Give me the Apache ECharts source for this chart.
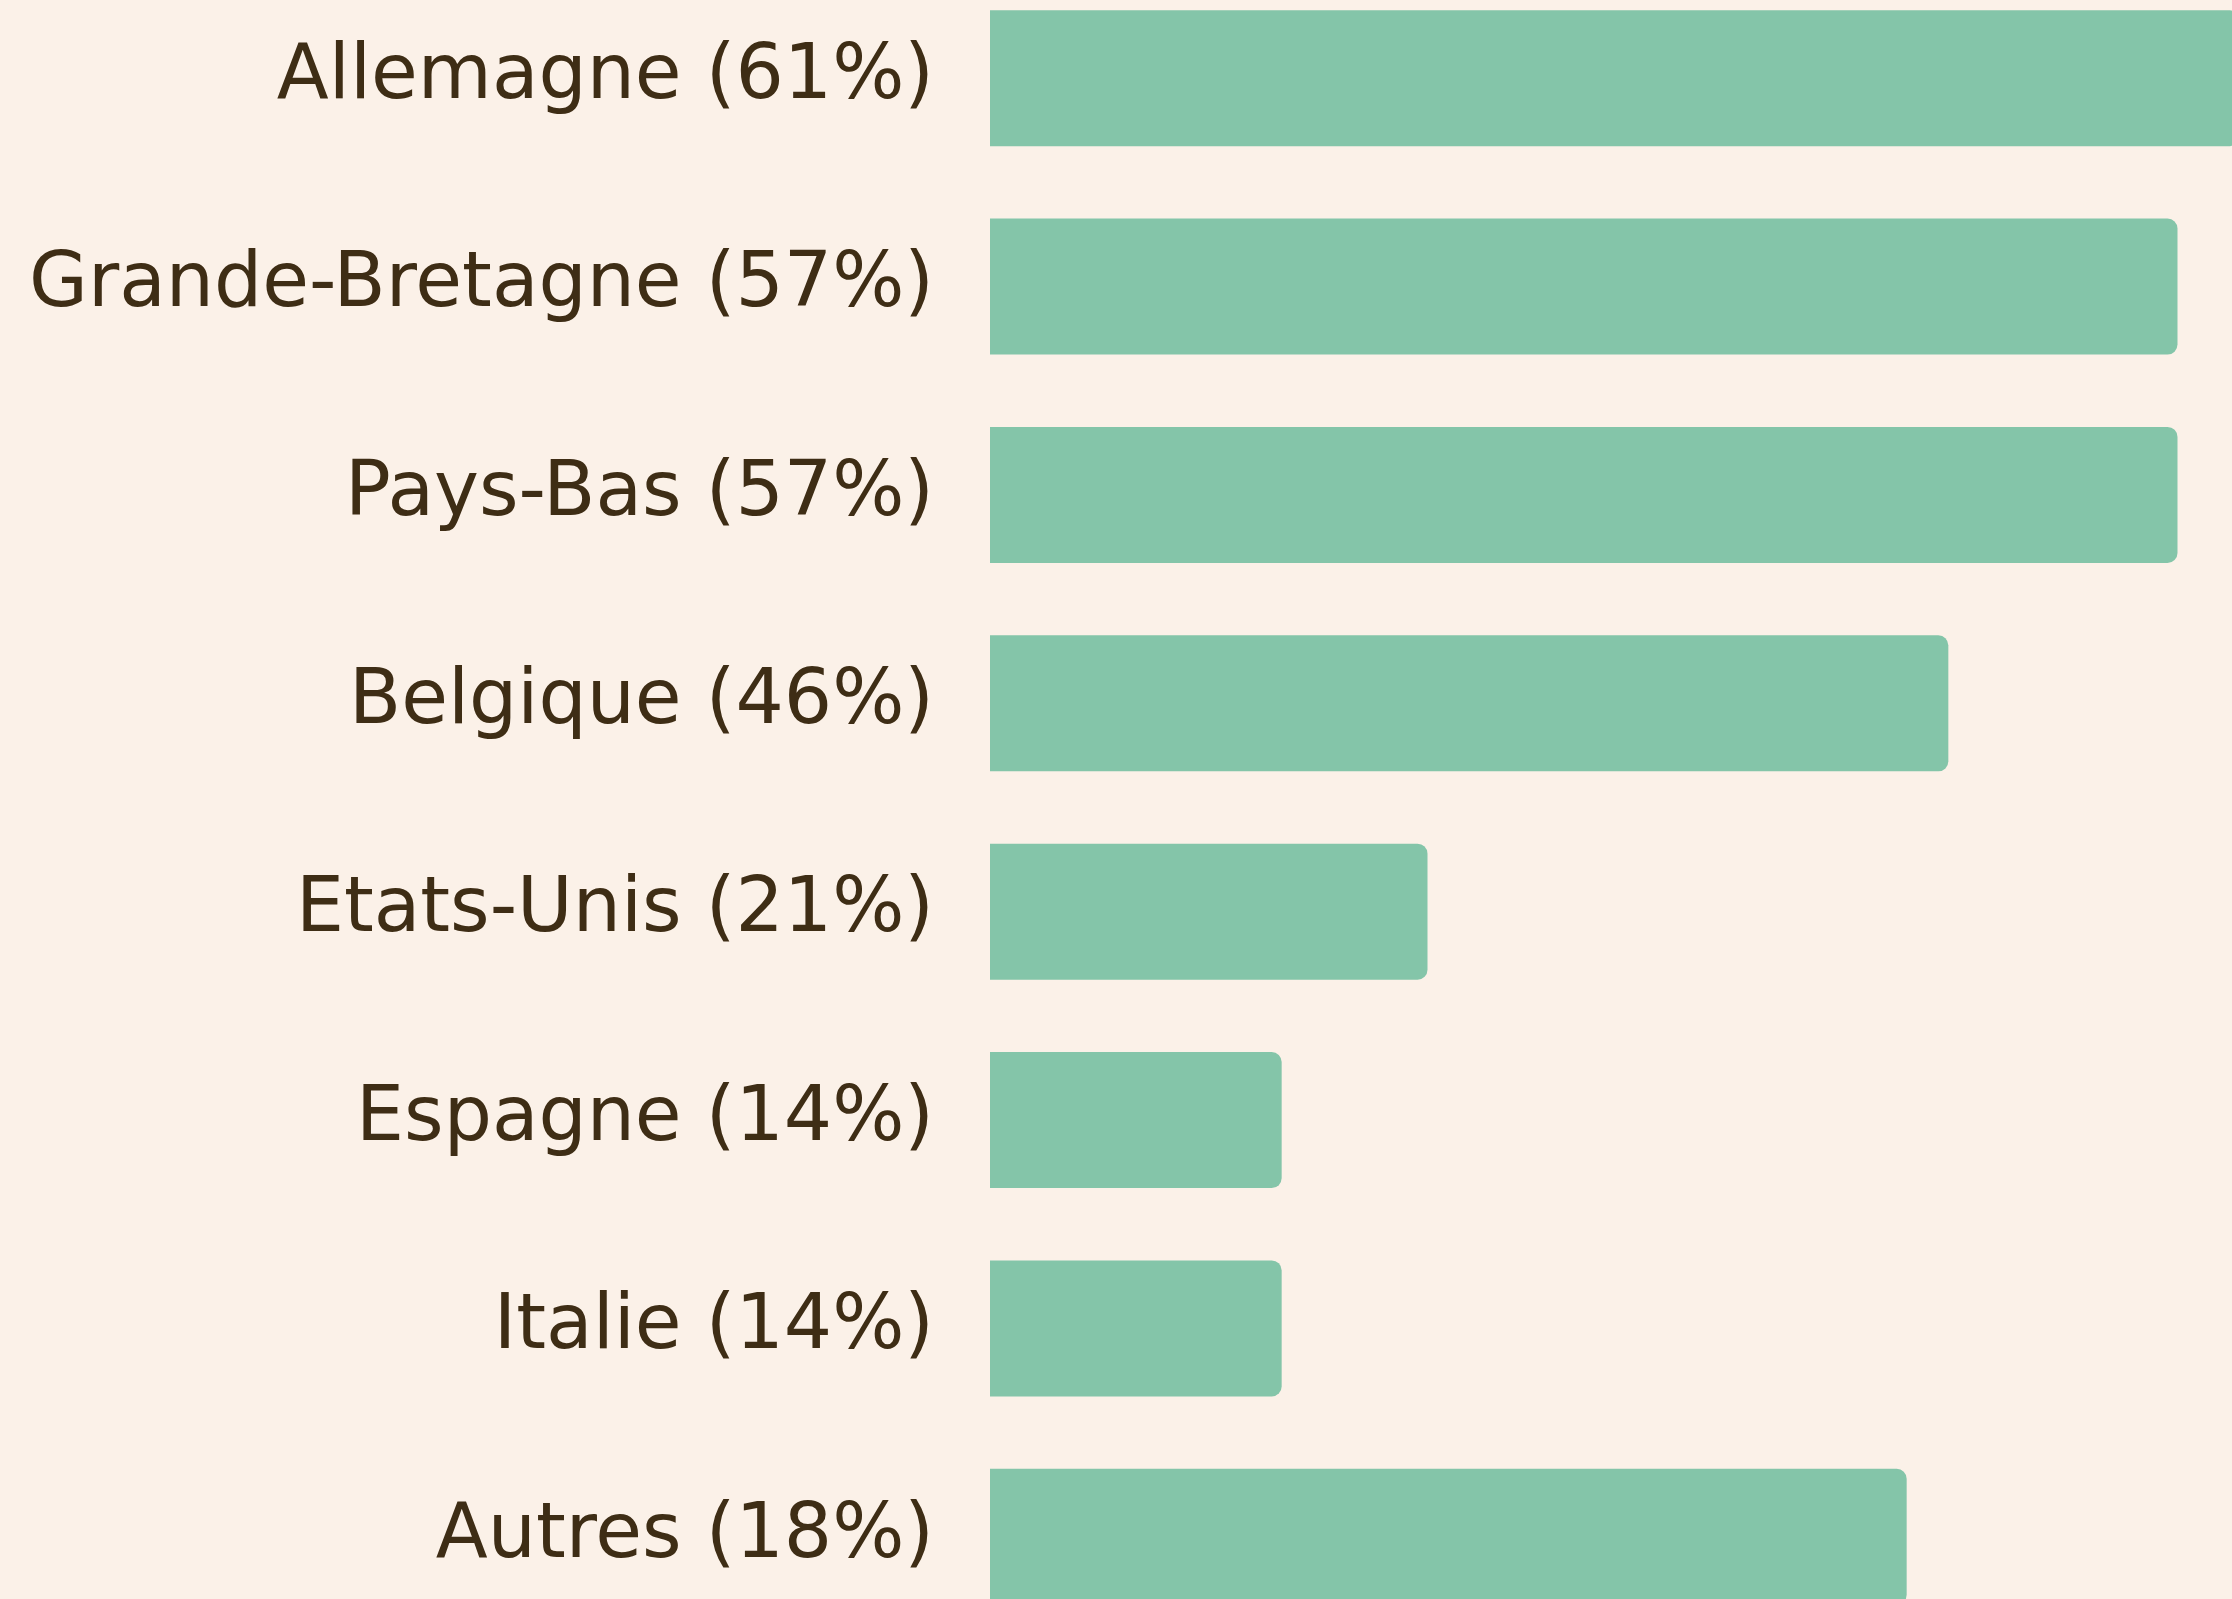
<!DOCTYPE html>
<html>
<head>
<meta charset="utf-8">
<script src="https://cdn.jsdelivr.net/npm/echarts@6/dist/echarts.min.js"></script>
<style>
  html, body { margin: 0; padding: 0; background: #fbf1e8; overflow: hidden; }
  /* chart is taller than the window: first and last bars run off the edges */
  #chart { position: absolute; left: 0; top: -26px; width: 2240px; height: 1667px; }
</style>
</head>
<body>
<div id="chart"></div>
<script>
// category labels (as printed) and bar lengths
const countries = ['Allemagne', 'Grande-Bretagne', 'Pays-Bas', 'Belgique', 'Etats-Unis', 'Espagne', 'Italie', 'Autres'];
const shares = ['61%', '57%', '57%', '46%', '21%', '14%', '14%', '18%'];
const barValues = [61, 57, 57, 46, 21, 14, 14, 44];

const labels = countries.map((c, i) => c + ' (' + shares[i] + ')');

const chart = echarts.init(document.getElementById('chart'));
chart.setOption({
  backgroundColor: '#fbf1e8',
  animation: false,
  grid: {
    top: 0,
    bottom: 0,
    left: 990,
    right: 0
  },
  xAxis: {
    type: 'value',
    min: 0,
    max: 60,
    axisLabel: { show: false },
    axisLine: { show: false },
    axisTick: { show: false },
    splitLine: { show: false }
  },
  yAxis: {
    type: 'category',
    inverse: true,
    data: labels,
    axisLine: { show: false },
    axisTick: { show: false },
    axisLabel: {
      margin: 56,
      fontFamily: 'DejaVu Sans',
      fontSize: 76,
      color: '#3e2d15'
    }
  },
  series: [
    {
      type: 'bar',
      data: barValues,
      barWidth: 136,
      itemStyle: {
        color: '#84c5a9',
        borderRadius: [0, 10, 10, 0]
      }
    }
  ]
});
</script>
</body>
</html>
